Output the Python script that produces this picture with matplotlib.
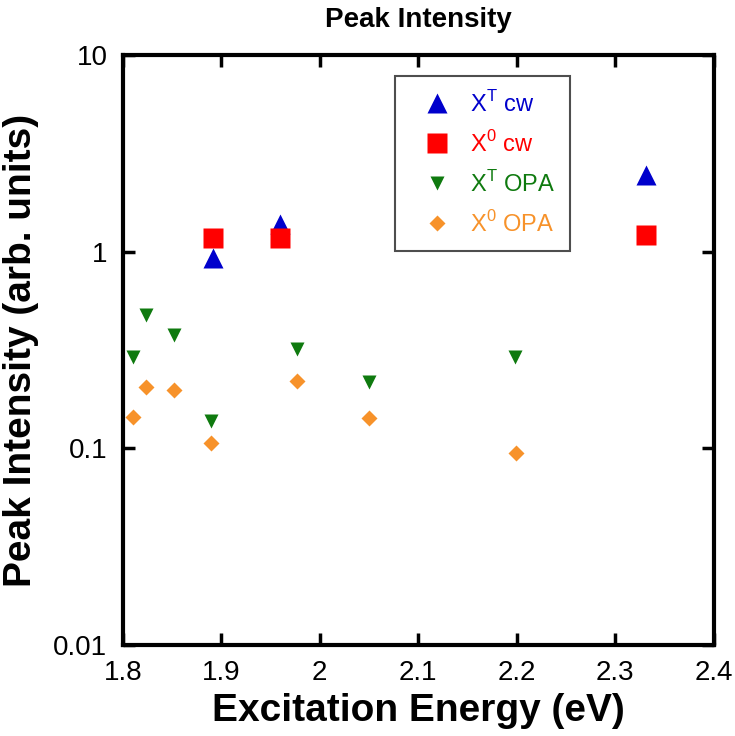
import matplotlib
matplotlib.use("Agg")
import matplotlib.pyplot as plt
from matplotlib.ticker import FixedLocator, FixedFormatter, NullLocator

plt.rcParams['font.family'] = ['Liberation Sans', 'DejaVu Sans']

# data
xt_cw_x = [1.892, 1.960, 2.331]
xt_cw_y = [0.93, 1.39, 2.46]
x0_cw_x = [1.892, 1.960, 2.331]
x0_cw_y = [1.18, 1.18, 1.21]
xt_opa_x = [1.810, 1.824, 1.852, 1.890, 1.977, 2.050, 2.198]
xt_opa_y = [0.290, 0.474, 0.378, 0.137, 0.318, 0.218, 0.292]
x0_opa_x = [1.810, 1.824, 1.852, 1.890, 1.977, 2.050, 2.199]
x0_opa_y = [0.144, 0.204, 0.198, 0.106, 0.219, 0.143, 0.095]

yticks = [0.01, 0.1, 1, 10]
ytick_labels = ['0.01', '0.1', '1', '10']
xticks = [1.8, 1.9, 2.0, 2.1, 2.2, 2.3, 2.4]
xtick_labels = ['1.8', '1.9', '2', '2.1', '2.2', '2.3', '2.4']

fig = plt.figure(figsize=(7.35, 7.36), dpi=100)
ax = fig.add_axes([0.167, 0.124, 0.804, 0.801])

ax.plot(xt_cw_x, xt_cw_y, '^', color='#0000cc', ms=15, mec='none', label='X$^\\mathregular{T}$ cw')
ax.plot(x0_cw_x, x0_cw_y, 's', color='#ff0000', ms=14, mec='none', label='X$^\\mathregular{0}$ cw')
ax.plot(xt_opa_x, xt_opa_y, 'v', color='#0f7a0f', ms=10, mec='none', label='X$^\\mathregular{T}$ OPA')
ax.plot(x0_opa_x, x0_opa_y, 'D', color='#f7922a', ms=8, mec='none', label='X$^\\mathregular{0}$ OPA')

ax.set_yscale('log')
ax.set_xlim(1.8, 2.4)
ax.set_ylim(0.01, 10)
ax.yaxis.set_major_locator(FixedLocator(yticks))
ax.yaxis.set_major_formatter(FixedFormatter(ytick_labels))
ax.yaxis.set_minor_locator(NullLocator())
ax.xaxis.set_major_locator(FixedLocator(xticks))
ax.xaxis.set_major_formatter(FixedFormatter(xtick_labels))

ax.tick_params(direction='in', length=8.5, width=2.5, labelsize=20, pad=11,
               top=True, right=True)
for s in ax.spines.values():
    s.set_linewidth(3)

ax.set_xlabel('Excitation Energy (eV)', fontsize=28, fontweight='bold', labelpad=5)
ax.set_ylabel('Peak Intensity (arb. units)', fontsize=28, fontweight='bold', labelpad=10)
ax.set_title('Peak Intensity', fontsize=20, fontweight='bold', pad=20)

leg = ax.legend(loc='upper left', bbox_to_anchor=(0.4603, 0.964), fontsize=17,
                frameon=True, fancybox=False, edgecolor='#222222', borderpad=0.6,
                labelspacing=0.6, handlelength=2.4, handletextpad=0.2, borderaxespad=0)
leg.get_frame().set_linewidth(1.5)
for txt, c in zip(leg.get_texts(), ['#0000cc', '#ff0000', '#0f7a0f', '#f7922a']):
    txt.set_color(c)

fig.savefig('out.png', dpi=100)
